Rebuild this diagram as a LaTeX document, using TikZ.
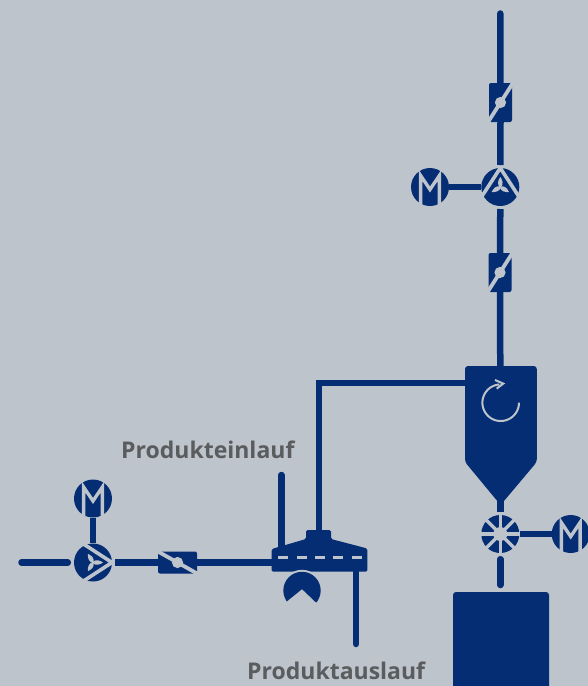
\documentclass[tikz,border=0pt]{standalone}
\usepackage{fontspec}
\setmainfont{Open Sans}
\definecolor{bgc}{HTML}{BDC4CB}
\definecolor{blu}{HTML}{042D74}
\definecolor{txtc}{HTML}{5A5C5E}
\tikzset{
  pipe/.style={draw=blu,line width=6.5pt},
  thinpipe/.style={draw=blu,line width=5.5pt},
  cutline/.style={draw=bgc,line width=3.4pt},
  symbolnode/.style={circle,fill=blu,inner sep=0pt,minimum size=38pt},
  motor/.style={symbolnode},
  fan/.style={symbolnode,outer sep=3pt},
  wheel/.style={symbolnode,outer sep=3pt},
  valvev/.style={rectangle,rounded corners=2pt,fill=blu,inner sep=0pt,minimum width=23pt,minimum height=39pt},
  valveh/.style={rectangle,rounded corners=2pt,fill=blu,inner sep=0pt,minimum width=39pt,minimum height=22pt},
  tankbox/.style={rectangle,rounded corners=3pt,fill=blu,inner sep=0pt,minimum width=96pt,minimum height=108pt},
  rollernode/.style={circle,fill=blu,inner sep=0pt,minimum size=37.4pt},
  halonode/.style={circle,fill=bgc,inner sep=0pt,minimum size=41.4pt},
  labeltext/.style={text=txtc,font=\fontsize{23}{26}\selectfont\bfseries,inner sep=0pt,anchor=base west},
}
\newcommand{\motorglyph}[1]{\begin{scope}[shift={(#1.center)}]
  \clip (0,0) circle (20);
  \draw[cutline,miter limit=10] (-9.4,24) -- (-9.4,-11.5) -- (0,2.5) -- (9.4,-11.5) -- (9.4,24);
\end{scope}}
\newcommand{\fanglyph}[2]{\begin{scope}[shift={(#1.center)},rotate=#2]
  \draw[cutline,line width=3.6pt] (-19.5,11) -- (0,-19) -- (19.5,11);
  \foreach \a in {0,120,240}{
    \begin{scope}[rotate=\a]
      \fill[bgc] (0,1) .. controls (-4,-3) and (-2,-7) .. (0,-10) .. controls (2,-7) and (4,-3) .. (0,1) -- cycle;
    \end{scope}
  }
\end{scope}}
\newcommand{\wheelglyph}[1]{\begin{scope}[shift={(#1.center)}]
  \foreach \a in {0,45,90,135}{
    \begin{scope}[rotate=\a]\draw[cutline] (-21,0) -- (21,0);\end{scope}
  }
  \fill[bgc] (0,0) circle (7);
\end{scope}}
\newcommand{\valveglyph}[3]{\begin{scope}[shift={(#1.center)}]
  \draw[cutline,line width=3.8pt] (-#2,#3) -- (#2,-#3);
  \fill[bgc] (0,0) circle (5.6);
\end{scope}}
\begin{document}
\begin{tikzpicture}[x=1pt,y=-1pt]
\useasboundingbox (0,0) rectangle (588,686);
\clip (0,0) rectangle (588,686);
\fill[bgc] (0,0) rectangle (588,686);
% free ends and joints
\coordinate (topend) at (500.3,13.5);
\coordinate (silotop) at (500.3,368);
\coordinate (silol) at (467,383);
\coordinate (elbow) at (318.8,383);
\coordinate (milltop) at (318.8,532);
\coordinate (siloout) at (500.3,500);
\coordinate (wheelend) at (500.3,585);
\coordinate (leftend) at (21.5,562.5);
\coordinate (millin) at (274,562.5);
\coordinate (inletend) at (281.3,475);
\coordinate (inletfoot) at (281.3,550);
\coordinate (outlettop) at (356,570);
\coordinate (outletend) at (356,644);
% silo
\fill[blu,rounded corners=3pt] (465,366) -- (536.8,366) -- (536.8,462) -- (500.6,505) -- (465,462) -- cycle;
\draw[draw=bgc,line width=2pt] plot[domain=0:266,samples=60,smooth] ({500.7+18.3*cos(\x)},{402.7+18.3*sin(\x)});
\draw[draw=bgc,line width=2pt,line join=miter] (495,380) -- (503.3,383.6) -- (496.7,388.6);
% mill
\fill[blu,rounded corners=1.5pt] (271.7,571.7) -- (271.7,549) -- (306,539) -- (306,530) -- (331,530) -- (331,539) -- (367.3,548.5) -- (367.3,571.7) -- cycle;
\foreach \x in {278.3,296.7,315,333.3,351.7}{\fill[bgc] (\x,555.5) rectangle (\x+10,558.5);}
% symbols
\node[valvev] (v1) at (500.5,102.5) {};
\node[fan] (f1) at (500.3,187) {};
\node[motor] (m1) at (430,187) {};
\node[valvev] (v2) at (500,272.5) {};
\node[wheel] (w) at (500.3,534) {};
\node[motor] (m3) at (570.7,534) {};
\node[tankbox] (tank) at (501,646) {};
\node[fan] (f2) at (93,562.5) {};
\node[motor] (m2) at (93,498.5) {};
\node[valveh] (v3) at (177.5,562.5) {};
\node[halonode] (rh) at (302,590.5) {};
\node[rollernode] (r) at (302,590.5) {};
% symbol glyphs
\motorglyph{m1}\motorglyph{m2}\motorglyph{m3}
\fanglyph{f1}{0}\fanglyph{f2}{-90}
\wheelglyph{w}
\valveglyph{v1}{14}{22}\valveglyph{v2}{14}{22}\valveglyph{v3}{24}{-13.5}
\fill[bgc] (286.7,601.7) -- (302,589.3) -- (316,602.7) -- (322,612) -- (280,612) -- cycle;
% connectors
\draw[pipe,line cap=round] (topend) -- ([yshift=-3.2pt]v1.north);
\draw[pipe] (v1.south) -- (f1.north);
\draw[pipe] (f1.south) -- (v2.north);
\draw[pipe] (v2.south) -- (silotop);
\draw[thinpipe,shorten >=-2.5pt] (m1.east) -- (f1.west);
\draw[pipe,line join=miter] (silol) -- (elbow) -- (milltop);
\draw[pipe] (siloout) -- (w.north);
\draw[pipe,line cap=round,shorten <=3.2pt] (w.south) -- (wheelend);
\draw[thinpipe,shorten <=-2.5pt] (w.east) -- (m3.west);
\draw[pipe,line cap=round,shorten >=3.2pt] (leftend) -- (f2.west);
\draw[pipe] (f2.east) -- (v3.west);
\draw[pipe] (v3.east) -- (millin);
\draw[thinpipe,line width=6pt,shorten >=-2.5pt] (m2.south) -- (f2.north);
\draw[pipe,line cap=round] (inletend) -- (inletfoot);
\draw[pipe,line cap=round] (outletend) -- (outlettop);
% labels
\node[labeltext] (lin) at (121,458) {Produkteinlauf};
\node[labeltext] (lout) at (247,679) {Produktauslauf};
\end{tikzpicture}
\end{document}
